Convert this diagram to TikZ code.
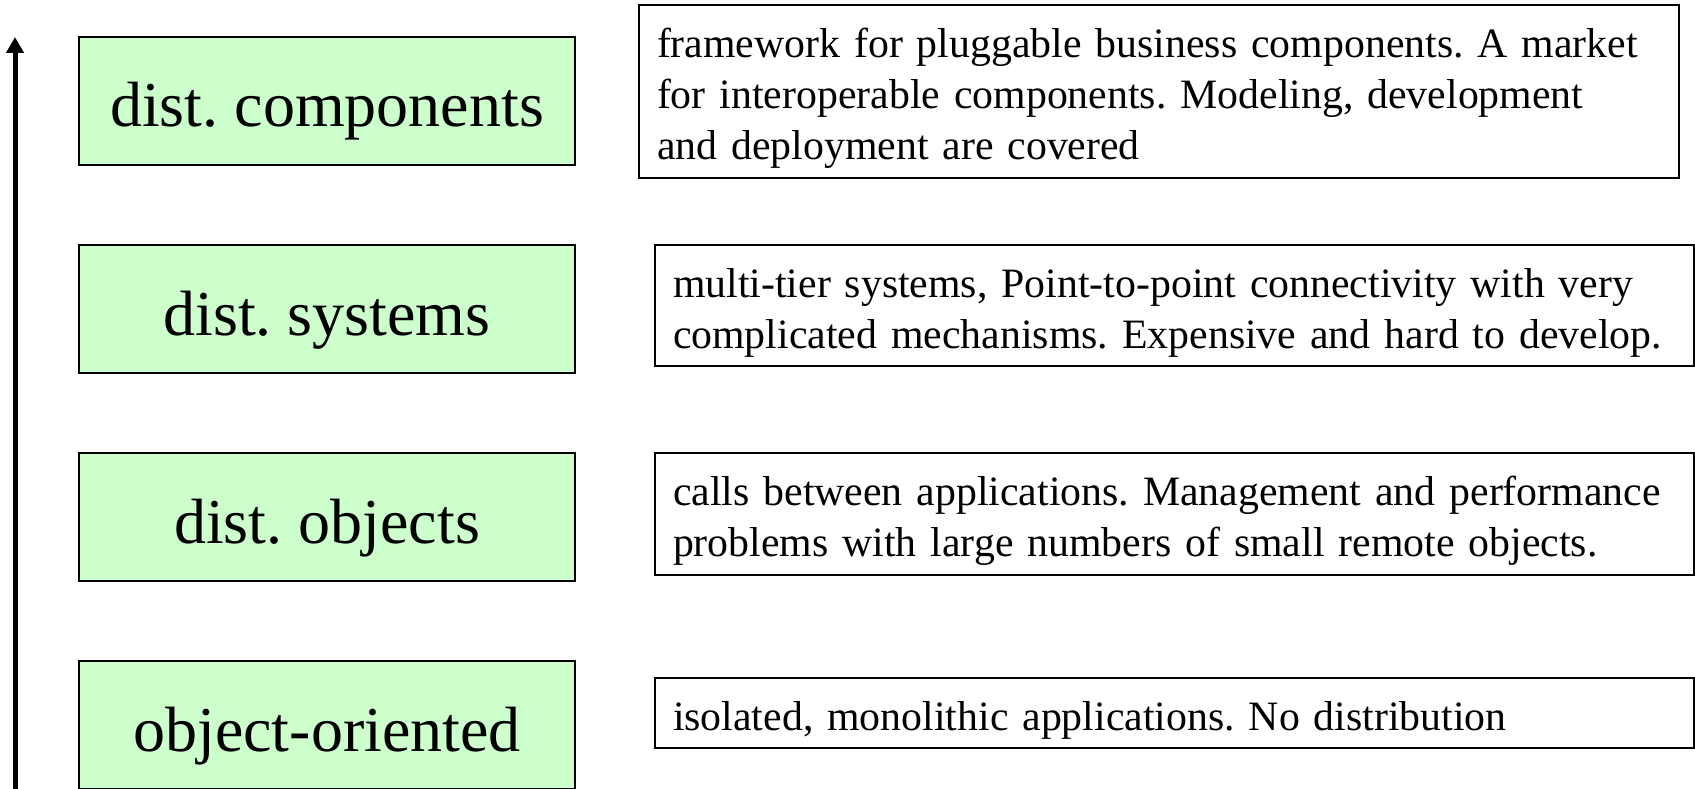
\documentclass[tikz,border=0pt]{standalone}
\usepackage{fontspec}
\setmainfont{Liberation Serif}
\usetikzlibrary{arrows.meta}
\definecolor{levelgreen}{RGB}{204,255,204}
\hyphenpenalty=10000
\exhyphenpenalty=10000
\frenchspacing
\tikzset{
  level/.style={draw=black, line width=2pt, fill=levelgreen,
    minimum width=496pt, minimum height=128pt, inner sep=0pt,
    text height=56pt, text depth=4pt,
    font=\fontsize{64}{70}\selectfont},
  note/.style={draw=black, line width=2pt, fill=white,
    inner xsep=18pt, inner ysep=0pt, align=left,
    font=\fontsize{41.8}{51}\selectfont,
    execute at begin node={\rule{0pt}{44pt}}},
  axis/.style={line width=5pt, -{Triangle[width=17pt,length=16pt]}}
}
\begin{document}
\begin{tikzpicture}[x=1pt, y=-1pt]
  \useasboundingbox (0,0) rectangle (1695,789);

  % vertical axis
  \coordinate (axisbase) at (15,800);
  \coordinate (axistip) at (15,37);
  \draw[axis] (axisbase) -- (axistip);

  % levels
  \node[level] (comp) at (327,101) {dist. components};
  \node[level] (sys)  at (327,309) {dist. systems};
  \node[level] (obj)  at (327,517) {dist. objects};
  \node[level] (oo)   at (327,725) {object-oriented};

  % descriptions
  \node[note, text width=1004pt, minimum height=173pt] (compd) at (1159,91.5)
    {framework for pluggable business components. A market\\
     for interoperable components. Modeling, development\\
     and deployment are covered};
  \node[note, text width=1003pt, minimum height=121pt] (sysd) at (1174.5,305.5)
    {multi-tier systems, Point-to-point connectivity with very\\
     complicated mechanisms. Expensive and hard to develop.};
  \node[note, text width=1003pt, minimum height=122pt] (objd) at (1174.5,514)
    {calls between applications. Management and performance\\
     problems with large numbers of small remote objects.};
  \node[note, text width=1003pt, minimum height=70pt] (ood) at (1174.5,713)
    {isolated, monolithic applications. No distribution};
\end{tikzpicture}
\end{document}
